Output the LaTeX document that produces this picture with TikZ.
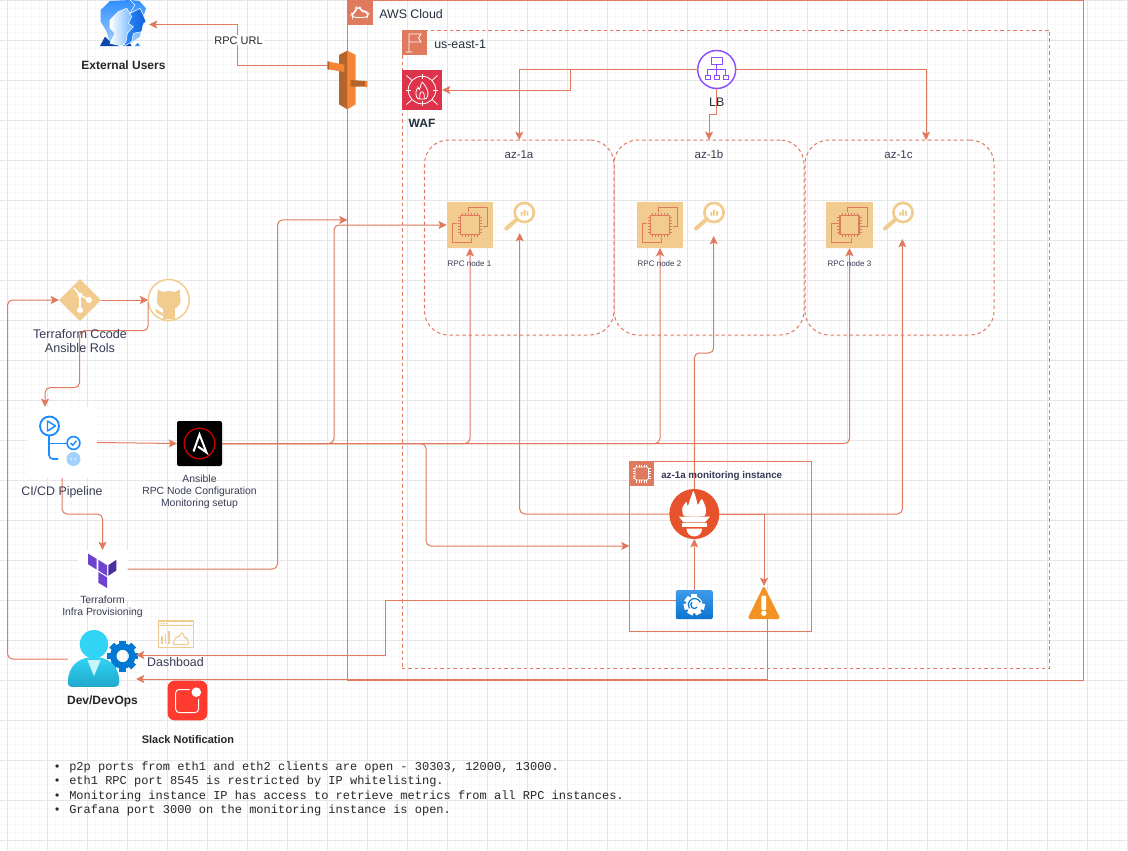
\documentclass[tikz,border=0pt]{standalone}
\usepackage{fontspec}
\setmainfont{Liberation Sans}
\newfontfamily\monof{Liberation Mono}
\usetikzlibrary{arrows.meta,shapes.geometric}
\definecolor{terra}{HTML}{E07A5F}
\definecolor{sand}{HTML}{F2CC8F}
\definecolor{ink}{HTML}{393C56}
\definecolor{awsink}{HTML}{232F3E}
\definecolor{gmajor}{HTML}{E6E6E6}
\definecolor{gminor}{HTML}{F8F8F8}
\definecolor{tfpurple}{HTML}{6F42D0}
\definecolor{tfdark}{HTML}{4B2F9E}
\definecolor{ciblue}{HTML}{1A8CFF}
\definecolor{lbpurple}{HTML}{8C4FFF}
\definecolor{wafred}{HTML}{DD344C}
\definecolor{gwdark}{HTML}{B5652B}
\definecolor{gwlight}{HTML}{F58534}
\definecolor{slackred}{HTML}{FF3B30}
\definecolor{promred}{HTML}{E6522C}
\definecolor{alertor}{HTML}{F29220}
\definecolor{azblue}{HTML}{0078D4}
\definecolor{devcyan}{HTML}{32D4F5}
\definecolor{devcyand}{HTML}{1FA8CC}
\definecolor{grafa}{HTML}{3F9BEA}
\definecolor{grafb}{HTML}{0B74D1}
\definecolor{ublue}{HTML}{2E8FFF}
\definecolor{ublued}{HTML}{0F5FD8}
\definecolor{ulight}{HTML}{6DB4FF}
\definecolor{ubase}{HTML}{0B46A8}
\newcommand{\fs}[1]{\fontsize{\fpeval{#1*0.75}}{\fpeval{#1*0.8}}\selectfont}
\tikzset{
  pxbox/.style 2 args={rectangle,inner sep=0pt,outer sep=0pt,minimum width=#1*0.75pt,minimum height=#2*0.75pt},
  pxcirc/.style={circle,inner sep=0pt,outer sep=0pt,minimum size=#1*0.75pt},
  frame/.style={draw=terra,line width=0.75pt},
  dframe/.style={draw=terra,line width=0.75pt,dash pattern=on 2.6pt off 2.2pt},
  wire/.style={draw=terra,line width=0.75pt,rounded corners=3.75pt},
  arrow/.style={wire,-{Stealth[length=6.2pt,width=6pt,inset=1.3pt]}},
  sarrow/.style={draw=terra,line width=0.75pt,-{Stealth[length=6.2pt,width=6pt,inset=1.3pt]}},
  lbl/.style={anchor=base,inner sep=0pt,text=ink},
  lbk/.style={anchor=base,inner sep=0pt,text=black!85},
  mlbl/.style={anchor=center,inner sep=0pt,text=ink,align=center},
  ec2icon/.pic={
    \draw[terra,line width=0.9pt] (-1.7,-12.7)--(-1.7,-17.7)--(17.7,-17.7)--(17.7,1.7)--(12.7,1.7);
    \draw[terra,line width=0.9pt] (1.7,12.7)--(1.7,17.7)--(-17.7,17.7)--(-17.7,-1.7)--(-12.7,-1.7);
    \draw[terra,line width=0.9pt] (-9.5,-9.5) rectangle (9.5,9.5);
    \foreach \t in {-7.5,-4.5,-1.5,1.5,4.5,7.5}{
      \draw[terra,line width=0.5pt] (\t,-9.5)--(\t,-12.3) (\t,9.5)--(\t,12.3) (-9.5,\t)--(-12.3,\t) (9.5,\t)--(12.3,\t);}
  },
  magicon/.pic={
    \draw[sand,line width=2pt,fill=white] (0,0) circle (9.6);
    \draw[sand,line width=3pt,line cap=round] (-7.6,7)--(-18,16);
    \fill[sand] (-3.6,-0.5) rectangle (-1.6,3) (-0.8,-3) rectangle (1.2,3) (2.2,-1.5) rectangle (4,3);
  },
}
\begin{document}
\begin{tikzpicture}[x=0.75pt,y=-0.75pt]
\useasboundingbox (0,0) rectangle (1128,850);
\fill[white] (0,0) rectangle (1128,850);
% grid
\foreach \k in {0,...,141}{\draw[gminor,line width=0.6pt] ({-0.5+8*\k},0)--({-0.5+8*\k},850);}
\foreach \k in {0,...,106}{\draw[gminor,line width=0.6pt] (0,{0.7+8*\k})--(1128,{0.7+8*\k});}
\foreach \k in {0,...,28}{\draw[gmajor,line width=0.75pt] ({7.4+40*\k},0)--({7.4+40*\k},850);}
\foreach \k in {0,...,21}{\draw[gmajor,line width=0.75pt] (0,{0.7+40*\k})--(1128,{0.7+40*\k});}
% containers
\node[pxbox={735.5}{680},frame] (aws) at (715.25,340.5) {};
\node[pxbox={647.5}{638},dframe] (region) at (725.75,349) {};
\node[pxbox={189.5}{195},dframe,rounded corners=18pt] (aza) at (519.25,237.5) {};
\node[pxbox={190}{195},dframe,rounded corners=18pt] (azb) at (709,237.5) {};
\node[pxbox={189}{195},dframe,rounded corners=18pt] (azc) at (899.5,237.5) {};
\node[pxbox={181.5}{170},frame] (mon) at (720.25,546) {};
% container icons
\node[pxbox={26}{25},fill=terra] (awsicon) at (360,12.5) {};
\draw[white,line width=0.6pt,rounded corners=2.6pt] (352.5,17.5)--(367,17.5)--(368.5,14)--(365.5,11.5)--(362,11.5)--(360,7.5)--(356,8)--(355,12)--(352,14) --cycle;
\node[pxbox={25}{25},fill=terra] (flagicon) at (414.5,42.5) {};
\draw[white,line width=0.6pt] (409,52)--(409,34)--(421,34)--(418.5,38)--(421,42)--(409,42) (405.5,52)--(412.5,52);
\node[pxbox={25}{25},fill=terra] (chipicon) at (641.7,473.5) {};
\draw[white,line width=0.6pt,rounded corners=1pt] (635,467) rectangle (648.5,480);
\foreach \t in {-5,-2.5,0,2.5,5}{\draw[white,line width=0.4pt] (641.7+\t,464.5)--(641.7+\t,467) (641.7+\t,480)--(641.7+\t,482.5) (632.5,473.5+\t)--(635,473.5+\t) (648.5,473.5+\t)--(651,473.5+\t);}
% compute
\node[pxbox={46.5}{46},fill=sand] (rpca) at (470,225) {};
\node[pxbox={46.5}{46},fill=sand] (rpcb) at (660,225) {};
\node[pxbox={46.5}{46},fill=sand] (rpcc) at (849.5,225) {};
\pic at (rpca) {ec2icon}; \pic at (rpcb) {ec2icon}; \pic at (rpcc) {ec2icon};
\node[pxbox={32}{31}] (maga) at (519.7,217.5) {};
\node[pxbox={32}{34}] (magb) at (713.7,219) {};
\node[pxbox={32}{37}] (magc) at (902.3,220.5) {};
\pic at (524.3,212.5) {magicon}; \pic at (714,212.5) {magicon}; \pic at (903,212.5) {magicon};
% LB
\node[pxcirc=38,draw=lbpurple,line width=1.1pt,fill=white] (lb) at (716.7,69.5) {};
\begin{scope}[shift={(716.7,69.5)},lbpurple,line width=0.75pt]
\draw (-5,-12) rectangle (5.5,-5) (0,-5)--(0,5.7) (-9,-0.5)--(9,-0.5) (-9,-0.5)--(-9,5.7) (9,-0.5)--(9,5.7);
\draw (-11.7,5.7) rectangle (-6.7,10) (-2.5,5.7) rectangle (2.5,10) (6.7,5.7) rectangle (11.7,10);
\end{scope}
% WAF
\node[pxbox={40}{40},fill=wafred] (waf) at (422,90) {};
\begin{scope}[shift={(422,90)},white,line width=0.6pt]
\draw (0,0) circle (13.8);
\draw (-15.5,-14.5)--(-10,-9.5) (10,9.5)--(15.5,14.5) (15.5,-14.5)--(10,-9.5) (-15.5,14.5)--(-10,9.5);
\draw (0,-16)--(0,-11) (0,11)--(0,16) (-16,0)--(-11,0) (11,0)--(16,0);
\draw[rounded corners=1.8pt] (-5,9)--(-6.5,2)--(-4,-3)--(-2.5,0)--(0,-9)--(4.5,-2)--(6.3,2)--(5,9)--cycle;
\draw[rounded corners=1pt] (-2.3,9)--(-2.3,4)--(0,1)--(2.3,4)--(2.3,9);
\end{scope}
% gateway
\node[pxbox={39.5}{59}] (gw) at (347.5,80.5) {};
\begin{scope}[shift={(320,45)},x=0.25pt,y=-0.25pt]
\fill[gwdark] (82,17)--(57,30)--(57,178)--(82,193)--cycle;
\fill[gwlight] (82,17)--(107,30)--(107,178)--(82,193)--cycle;
\fill[gwlight] (26,50)--(73,59)--(73,81)--(26,73)--cycle;
\fill[gwdark] (22,49)--(27,49)--(27,74)--(22,73)--cycle;
\fill[gwdark] (92,105)--(135,108)--(135,125)--(92,125)--cycle;
\fill[gwlight] (135,108)--(142,108)--(142,127)--(135,126)--cycle;
\end{scope}
% external users
\node[pxbox={49}{49}] (users) at (124.5,24.5) {};
\begin{scope}[shift={(90,0)},x=0.25pt,y=-0.25pt]
\shade[top color=ublue,bottom color=ulight!60!white] (32,30)--(60,3)--(120,0)--(148,3)--(168,25)--(160,50)--(150,110)--(110,138)--(60,130)--(50,95)--(32,65)--cycle;
\draw[white,line width=0.4pt] (120,0)--(135,15)--(120,40);
\fill[ubase] (30,138)--(45,110)--(60,125)--(90,138)--cycle (100,138)--(115,122)--(125,138)--cycle;
\fill[ublue] (135,138)--(143,128)--(150,138)--cycle;
\shade[left color=ublue,right color=ublued,draw=white,line width=0.4pt] (120,40)--(150,25)--(160,45)--(168,65)--(160,72)--(155,95)--(130,100)--(125,125)--(105,138)--(100,110)--cycle;
\shade[left color=white,right color=ulight,draw=white,line width=0.4pt] (60,60)--(85,35)--(110,25)--(125,50)--(115,70)--(130,80)--(112,100)--(108,125)--(95,138)--(60,130)--(75,100)--(60,85)--cycle;
\end{scope}
% git and github
\node[diamond,inner sep=0pt,outer sep=0pt,minimum size=31.5pt,fill=sand] (git) at (80,300) {};
\begin{scope}[shift={(80,300)},white]
\draw[line width=1.2pt] (-6,-12)--(0,-5)--(0,9) (0,-5)--(9,0);
\fill (0,10) circle (3) (9,0) circle (3) (0,-5) circle (2.4);
\end{scope}
\node[pxcirc=41,draw=sand,line width=1.1pt,fill=white] (gh) at (168.7,300) {};
\begin{scope}[shift={(168.7,300)},sand]
\fill (0,0.5) ellipse (12 and 9.5);
\fill (-11.5,-2)--(-11,-10.5)--(-4,-7)--cycle (11.5,-2)--(11,-10.5)--(4,-7)--cycle;
\fill (-6,8) rectangle (6,19);
\fill (-13.5,9) -- (-6,13) -- (-6,16) -- (-12.5,12.5) -- cycle;
\end{scope}
% CI/CD
\node[pxbox={70}{71},fill=white] (ci) at (62,442.5) {};
\begin{scope}[shift={(62,442.5)},ciblue,line width=1.1pt]
\draw[line width=1.4pt] (-12.5,-16.5) circle (9.5);
\draw[line width=1.1pt,line join=round] (-14.5,-21.5)--(-14.5,-11.5)--(-6.5,-16.5)--cycle;
\draw[line width=1.2pt,rounded corners=3pt] (-13,-7)--(-13,16.5)--(-4,16.5);
\draw[line width=1.2pt] (-13,1)--(5,1);
\draw[line width=1.2pt,fill=white] (11.5,0.5) circle (6.4);
\draw[line width=1pt] (8.7,0.5)--(10.8,2.8)--(14.5,-1.8);
\fill[ciblue!40!white] (11.5,16.5) circle (7);
\fill[white] (9.2,16.5) circle (0.9) (13.4,16.5) circle (0.9);
\end{scope}
% Ansible
\node[pxbox={45}{45},fill=black,rounded corners=1.5pt] (ans) at (199.5,443.5) {};
\draw[red!80!black,line width=1pt] (ans) circle (15.3);
\draw[white,line width=1.5pt,line join=miter] ([shift={(-6,8)}]ans.center)--([shift={(0,-9)}]ans.center)--([shift={(7,9)}]ans.center)--([shift={(-1.5,3)}]ans.center);
% Terraform
\node[pxbox={50}{50},fill=white] (tf) at (102.5,575) {};
\begin{scope}[shift={(102.3,568.5)}]
\fill[tfdark] (14,-8.7)--(6,-3.3)--(6,7.3)--(14,2)--cycle;
\fill[tfpurple] (-14.3,-15)--(-5.7,-9.7)--(-5.7,1)--(-14.3,-4.3)--cycle (-4,-8.7)--(4.7,-3.3)--(4.7,7.3)--(-4,2)--cycle (-4,3.5)--(4.7,8.8)--(4.7,19.5)--(-4,14.2)--cycle;
\end{scope}
% Dev
\node[pxbox={68}{58}] (dev) at (102,659) {};
\begin{scope}[shift={(122.7,656)}]
\foreach \a in {0,45,...,315}{\fill[azblue,rotate=\a] (-3.4,-10) rectangle (3.4,-15.5);}
\draw[azblue,line width=4.8pt] (0,0) circle (9.5);
\end{scope}
\shade[top color=devcyan,bottom color=devcyand] (71,686.8) .. controls (68,686.8) and (68,684) .. (68,682) .. controls (68,665) and (80,657) .. (94,657) .. controls (108,657) and (119.3,665) .. (119.3,682) .. controls (119.3,685) and (118,686.8) .. (115,686.8) -- cycle;
\fill[devcyan!25!white] (87.5,660)--(100.7,660)--(94,676)--cycle;
\fill[devcyan] (94,644.2) circle (14.2);
% Dashboard
\node[pxbox={35}{26.5},draw=sand,line width=1pt] (dash) at (175.8,634.2) {};
\draw[sand,line width=0.6pt] (158.3,625.5)--(193.3,625.5);
\fill[sand] (160.5,622.8) rectangle (162,624) (163.2,622.8) rectangle (164.7,624) (166,622.8) rectangle (167.5,624);
\draw[sand,line width=0.8pt] (162,644)--(162,636) (165.5,644)--(165.5,634) (169,644)--(169,631);
\draw[sand,line width=0.8pt,rounded corners=1pt] (172.5,644.5)--(176,637)--(179,637)--(182,632)--(185,638)--(187,638)--(189,644.5)--cycle;
% Slack
\node[pxbox={39.6}{39.6},fill=slackred,rounded corners=5pt] (slack) at (187.5,700.5) {};
\begin{scope}[shift={(187.5,700.5)}]
\draw[white,line width=0.75pt,rounded corners=2.5pt] (-11.8,-11) rectangle (11,12);
\fill[slackred] (8.8,-8.3) circle (7);
\fill[white] (8.8,-8.3) circle (4.8);
\end{scope}
% Prometheus
\node[pxcirc=50,fill=promred] (prom) at (694.3,514) {};
\begin{scope}[shift={(694.3,514)},white]
\fill plot[smooth cycle,tension=0.35] coordinates {(-10,2)(-12,-6)(-8,-12)(-6.5,-8)(-4,-15)(-1,-23)(2,-15)(3.5,-9)(7.5,-15)(11.5,-6)(10,2)};
\fill (-15.3,2.7)--(15.7,2.7)--(10.7,8.3)--(-11,8.3)--cycle;
\fill (-12.3,9.3) rectangle (12.3,12.7);
\fill (-7.8,14.7)--(7.8,14.7) arc[start angle=0,end angle=180,radius=7.8];
\end{scope}
% Grafana
\node[pxbox={37}{29},rounded corners=1.5pt,top color=grafa,bottom color=grafb] (graf) at (694.3,604.7) {};
\begin{scope}[shift={(694.3,604.7)},white]
\foreach \a in {0,51.4,...,308}{\fill[rotate=\a] (-3,-6) rectangle (3,-10.5);}
\fill (0,0) circle (8.3);
\draw[azblue,line width=0.9pt] (2.8,2.5) arc[start angle=40,end angle=230,radius=3.6];
\draw[azblue,line width=0.9pt] (6,-2.5) arc[start angle=-25,end angle=-215,radius=6.3];
\end{scope}
% Alert
\node[pxbox={32.4}{33}] (alert) at (764,602.5) {};
\fill[alertor,rounded corners=2pt] (763.8,585.5)--(780.5,619)--(747.4,619)--cycle;
\fill[white,rounded corners=0.8pt] (761.3,595.7) rectangle (766.2,610);
\fill[white] (763.8,613.2) circle (2.7);
% connectors
\draw[sarrow] ([yshift=10.9pt]gw.west) -- ++(-90,0) |- (users.east);
\draw[arrow] (git.east) -- (gh.west);
\draw[arrow] ([yshift=-2pt]gh.west) -- ++(0,28) -- ++(-68.7,0) -- ++(0,57) -| ([xshift=-12.75pt]ci.north);
\draw[arrow] (ci.east) -- (ans.west);
\draw[arrow] (ci.south) -- ++(0,36) -| (tf.north);
\draw[arrow] (dev.west) -- ++(-60.5,0) |- (git.west);
\draw[arrow] ([yshift=4.5pt]tf.east) -- ++(150,0) |- ([yshift=90.4pt]aws.west);
\draw[arrow] (ans.east) -- ++(112,0) |- (rpca.west);
\draw[arrow] (ans.east) -| (rpca.south);
\draw[arrow] (ans.east) -| (rpcb.south);
\draw[arrow] (ans.east) -| (rpcc.south);
\draw[arrow] (ans.east) -- ++(204,0) |- (mon.west);
\draw[sarrow] (lb.west) -- ++(-127,0) |- (waf.east);
\draw[sarrow] (lb.west) -| (aza.north);
\draw[sarrow] (lb.south) -- ++(0,26) -| (azb.north);
\draw[sarrow] (lb.east) -| ([xshift=19.9pt]azc.north);
\draw[arrow] (prom.west) -| (maga.south);
\draw[arrow] (prom.north) -- ++(0,-136) -| (magb.south);
\draw[arrow] (prom.east) -| (magc.south);
\draw[sarrow] (prom.east) -| (alert.north);
\draw[sarrow] (graf.north) -- (prom.south);
\draw[sarrow] ([yshift=3.5pt]graf.west) -- ++(-290.3,0) |- ([yshift=3pt]dev.east);
\draw[sarrow] ([xshift=2.25pt]alert.south) |- ([yshift=-15pt]dev.east);
% labels
\node[anchor=base,inner sep=1pt,fill=white,text=black!85,font=\fs{11}] (rpcurl) at (238.5,44) {RPC URL};
\node[lbk,font=\fs{12}\bfseries] (usertext) at (123.5,69.5) {External Users};
\node[lbl,anchor=base west,text=awsink,font=\fs{12.4}] (awstext) at (379,18) {AWS Cloud};
\node[lbl,anchor=base west,text=awsink,font=\fs{12.4}] (regtext) at (434,48) {us-east-1};
\node[lbl,text=awsink,font=\fs{12}\bfseries] (waftext) at (422,127) {WAF};
\node[lbl,text=awsink,font=\fs{12.4}] (lbtext) at (716.7,106.5) {LB};
\node[lbl,font=\fs{11.5}] (azatext) at (519,158) {az-1a};
\node[lbl,font=\fs{11.5}] (azbtext) at (709,158) {az-1b};
\node[lbl,font=\fs{11.5}] (azctext) at (898.5,158) {az-1c};
\node[lbl,font=\fs{8}] (rpcatext) at (469.5,266) {RPC node 1};
\node[lbl,font=\fs{8}] (rpcbtext) at (659.5,266) {RPC node 2};
\node[lbl,font=\fs{8}] (rpcctext) at (849.5,266) {RPC node 3};
\node[lbl,anchor=base west,font=\fs{9.8}\bfseries] (montext) at (661,478.5) {az-1a monitoring instance};
\node[mlbl,font=\fs{12.6}] (gittext) at (80,341) {Terraform Ccode\\Ansible Rols};
\node[lbl,font=\fs{12.4}] (citext) at (62,495.5) {CI/CD Pipeline};
\node[mlbl,font=\fs{10.4}] (anstext) at (199.5,492) {Ansible\\[0.7pt]RPC Node Configuration\\[0.7pt]Monitoring setup};
\node[mlbl,font=\fs{10.4}] (tftext) at (102.5,606.5) {Terraform\\[0.8pt]Infra Provisioning};
\node[lbl,font=\fs{12.4}] (dashtext) at (175.5,666) {Dashboad};
\node[lbk,font=\fs{12}\bfseries] (devtext) at (102.5,704.5) {Dev/DevOps};
\node[lbk,font=\fs{11}\bfseries] (slacktext) at (188,743) {Slack Notification};
\node[anchor=west,inner sep=0pt,align=left,text=black!85,font={\monof\fontsize{9}{10.8}\selectfont}] (notes) at (53.4,789) {%
\makebox[11.7pt][l]{•}p2p ports from eth1 and eth2 clients are open - 30303, 12000, 13000.\\
\makebox[11.7pt][l]{•}eth1 RPC port 8545 is restricted by IP whitelisting.\\
\makebox[11.7pt][l]{•}Monitoring instance IP has access to retrieve metrics from all RPC instances.\\
\makebox[11.7pt][l]{•}Grafana port 3000 on the monitoring instance is open.};
\end{tikzpicture}
\end{document}
